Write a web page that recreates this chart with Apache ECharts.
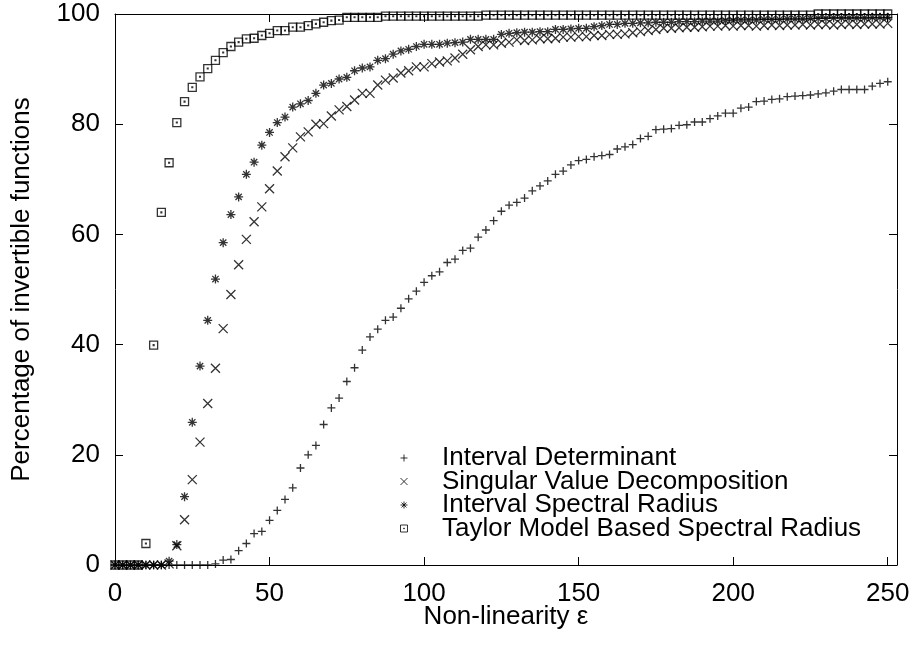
<!DOCTYPE html>
<html lang="en">
<head>
  <meta charset="UTF-8">
  <title>Invertible functions</title>
  <script src="https://cdn.jsdelivr.net/npm/echarts@6.0.0/dist/echarts.min.js"></script>
  <style>html, body { margin: 0; padding: 0; background: #fff; }</style>
</head>
<body>
  <div id="chart" style="width: 912px; height: 648px;"></div>
  <script>
    // non-linearity values (x)
    const eps = [0, 2.5, 5, 7.5, 10, 12.5, 15, 17.5, 20, 22.5, 25, 27.5, 30, 32.5, 35, 37.5, 40, 42.5, 45, 47.5,
      50, 52.5, 55, 57.5, 60, 62.5, 65, 67.5, 70, 72.5, 75, 77.5, 80, 82.5, 85, 87.5, 90, 92.5, 95, 97.5,
      100, 102.5, 105, 107.5, 110, 112.5, 115, 117.5, 120, 122.5, 125, 127.5, 130, 132.5, 135, 137.5, 140, 142.5, 145, 147.5,
      150, 152.5, 155, 157.5, 160, 162.5, 165, 167.5, 170, 172.5, 175, 177.5, 180, 182.5, 185, 187.5, 190, 192.5, 195, 197.5,
      200, 202.5, 205, 207.5, 210, 212.5, 215, 217.5, 220, 222.5, 225, 227.5, 230, 232.5, 235, 237.5, 240, 242.5, 245, 247.5, 250]

    const intervalDet = [0, 0, 0, 0, 0, 0, 0, 0, 0, 0, 0, 0, 0,
      0.2, 0.9, 1.0, 2.6, 3.9, 5.7, 6.1, 8.1, 9.9, 11.9,
      14.0, 17.6, 20.0, 21.7, 25.5, 28.5, 30.3, 33.3, 35.8, 39.0,
      41.4, 42.8, 44.4, 45.0, 46.6, 48.3, 49.7, 51.3, 52.5, 53.2,
      54.9, 55.5, 57.1, 57.5, 59.5, 60.8, 62.5, 64.2, 65.3, 65.8,
      66.6, 67.9, 68.8, 69.7, 70.9, 71.5, 72.6, 73.4, 73.6, 74.1,
      74.3, 74.5, 75.5, 75.9, 76.3, 77.4, 77.8, 79.0, 79.1, 79.2,
      79.8, 79.9, 80.4, 80.4, 81.0, 81.5, 82.0, 82.0, 82.9, 83.1,
      84.1, 84.2, 84.5, 84.6, 85.0, 85.1, 85.2, 85.3, 85.5, 85.7,
      86.0, 86.3, 86.3, 86.3, 86.3, 86.9, 87.4, 87.7]

    const svd = [0, 0, 0, 0, 0, 0, 0,
      0.2, 3.5, 8.2, 15.5, 22.3, 29.3, 35.7, 42.9, 49.1, 54.5,
      59.1, 62.3, 65.0, 68.3, 71.5, 74.1, 75.7, 77.7, 78.6, 80.0,
      80.1, 81.5, 82.6, 83.2, 84.4, 85.6, 85.6, 87.1, 88.0, 88.4,
      89.3, 89.7, 90.4, 90.4, 91.0, 91.3, 91.5, 92.0, 92.7, 93.5,
      94.1, 94.4, 94.4, 94.7, 94.9, 95.3, 95.2, 95.3, 95.5, 95.5,
      95.6, 95.8, 95.8, 95.9, 95.9, 96.1, 96.1, 96.3, 96.3, 96.4,
      96.6, 96.8, 97.0, 97.2, 97.4, 97.4, 97.5, 97.6, 97.6, 97.7,
      97.8, 97.8, 97.9, 97.8, 97.9, 97.9, 97.8, 97.9, 98.0, 97.9,
      98.0, 98.0, 98.1, 98.0, 98.1, 98.1, 98.0, 98.1, 98.2, 98.1,
      98.2, 98.2, 98.2, 98.3]

    const intervalSR = [0, 0, 0, 0, 0, 0, 0,
      0.7, 3.7, 12.4, 25.9, 36.1, 44.4, 51.9, 58.5, 63.6, 66.8,
      70.9, 73.1, 76.2, 78.5, 80.3, 81.3, 83.1, 83.7, 84.3, 85.6,
      87.1, 87.4, 88.2, 88.5, 89.7, 90.2, 90.4, 91.6, 91.9, 92.7,
      93.3, 93.6, 94.1, 94.5, 94.5, 94.5, 94.7, 94.8, 94.9, 95.4,
      95.4, 95.4, 95.4, 96.3, 96.5, 96.6, 96.7, 96.7, 96.8, 96.8,
      97.2, 97.2, 97.3, 97.4, 97.4, 97.7, 97.9, 98.1, 98.1, 98.3,
      98.3, 98.4, 98.4, 98.5, 98.5, 98.5, 98.6, 98.6, 98.6, 98.7,
      98.7, 98.7, 98.8, 98.8, 98.9, 98.9, 98.9, 99.0, 99.0, 99.0,
      99.1, 99.1, 99.1, 99.2, 99.2, 99.2, 99.3, 99.3, 99.3, 99.3,
      99.3, 99.4, 99.4, 99.4]

    const taylorSR = [0, 0, 0, 0,
      3.9, 39.9, 64.0, 73.0, 80.3, 84.1, 86.7, 88.6, 90.1, 91.6,
      93.0, 94.1, 94.9, 95.5, 95.6, 96.1, 96.5, 97.0, 97.0, 97.6,
      97.6, 97.9, 98.2, 98.5, 98.8, 98.9, 99.4,
      99.4, 99.4, 99.4, 99.4,
      99.6, 99.6, 99.6, 99.6, 99.6, 99.6, 99.6, 99.6, 99.6, 99.6, 99.6, 99.6, 99.6,
      99.8, 99.8, 99.8, 99.8, 99.8, 99.8, 99.8, 99.8, 99.8, 99.8,
      99.8, 99.8, 99.8, 99.8, 99.8, 99.8, 99.8, 99.8, 99.8, 99.8,
      99.8, 99.8, 99.8, 99.8, 99.8, 99.8, 99.8, 99.8, 99.8, 99.8,
      99.8, 99.8, 99.8, 99.8, 99.8, 99.8, 99.8, 99.8, 99.8, 99.8,
      99.8, 99.8, 99.8,
      100, 100, 100, 100, 100, 100, 100, 100, 100, 100]

    const names = ['Interval Determinant', 'Singular Value Decomposition',
      'Interval Spectral Radius', 'Taylor Model Based Spectral Radius']

    // gnuplot style point types: plus, cross, star, dotted box
    const marks = [
      'path://M0,4L8,4M4,0L4,8',
      'path://M0,0L8,8M8,0L0,8',
      'path://M0,4L8,4M4,0L4,8M1.2,1.2L6.8,6.8M6.8,1.2L1.2,6.8',
      'path://M0,0L8,0L8,8L0,8ZM3.6,3.6L4.4,3.6L4.4,4.4L3.6,4.4Z'
    ]
    const markSizes = [8, 9, 9, 8]
    const allValues = [intervalDet, svd, intervalSR, taylorSR]

    const font = 'Liberation Sans, Arial, sans-serif'
    const fs = 26

    const chart = echarts.init(document.getElementById('chart'))

    const axisBase = {
      type: 'value',
      splitLine: { show: false },
      axisLine: { show: true, onZero: false, lineStyle: { color: '#000', width: 1 } },
      axisTick: { show: true, inside: true, length: 8, lineStyle: { color: '#000', width: 1 } }
    }

    const option = {
      animation: false,
      grid: { left: 115, right: 15, top: 14, bottom: 83, outerBoundsMode: 'none' },
      legend: {
        orient: 'vertical',
        left: 400,
        top: 445,
        padding: 0,
        itemGap: -2.5,
        itemWidth: 66,
        itemHeight: 7,
        selectedMode: false,
        itemStyle: { color: 'transparent', borderColor: '#000', borderWidth: 1 },
        textStyle: { fontSize: fs, fontFamily: font, color: '#000' },
        data: names.map((n, i) => ({ name: n, icon: marks[i] }))
      },
      xAxis: [
        {
          ...axisBase,
          min: 0, max: 253, interval: 50,
          name: 'Non-linearity \u03b5',
          nameLocation: 'middle',
          nameGap: 39,
          nameMoveOverlap: false,
          nameTextStyle: { fontSize: fs, fontFamily: font, color: '#000' },
          axisLabel: { fontSize: fs, fontFamily: font, color: '#000', margin: 16, showMaxLabel: false }
        },
        {
          ...axisBase,
          position: 'top',
          min: 0, max: 253, interval: 50,
          axisLabel: { show: false }
        }
      ],
      yAxis: [
        {
          ...axisBase,
          min: 0, max: 100, interval: 20,
          name: 'Percentage of invertible functions',
          nameLocation: 'middle',
          nameGap: 80,
          nameMoveOverlap: false,
          nameTextStyle: { fontSize: fs, fontFamily: font, color: '#000' },
          axisLabel: { fontSize: fs, fontFamily: font, color: '#000', margin: 15 }
        },
        {
          ...axisBase,
          position: 'right',
          min: 0, max: 100, interval: 20,
          axisLabel: { show: false }
        }
      ],
      series: allValues.map((vals, i) => ({
        name: names[i],
        type: 'scatter',
        symbol: marks[i],
        symbolSize: markSizes[i],
        clip: false,
        itemStyle: { color: 'transparent', borderColor: '#000', borderWidth: 1.3 },
        emphasis: { disabled: true },
        data: eps.map((x, j) => [x, vals[j]])
      }))
    }

    chart.setOption(option)
  </script>
</body>
</html>
